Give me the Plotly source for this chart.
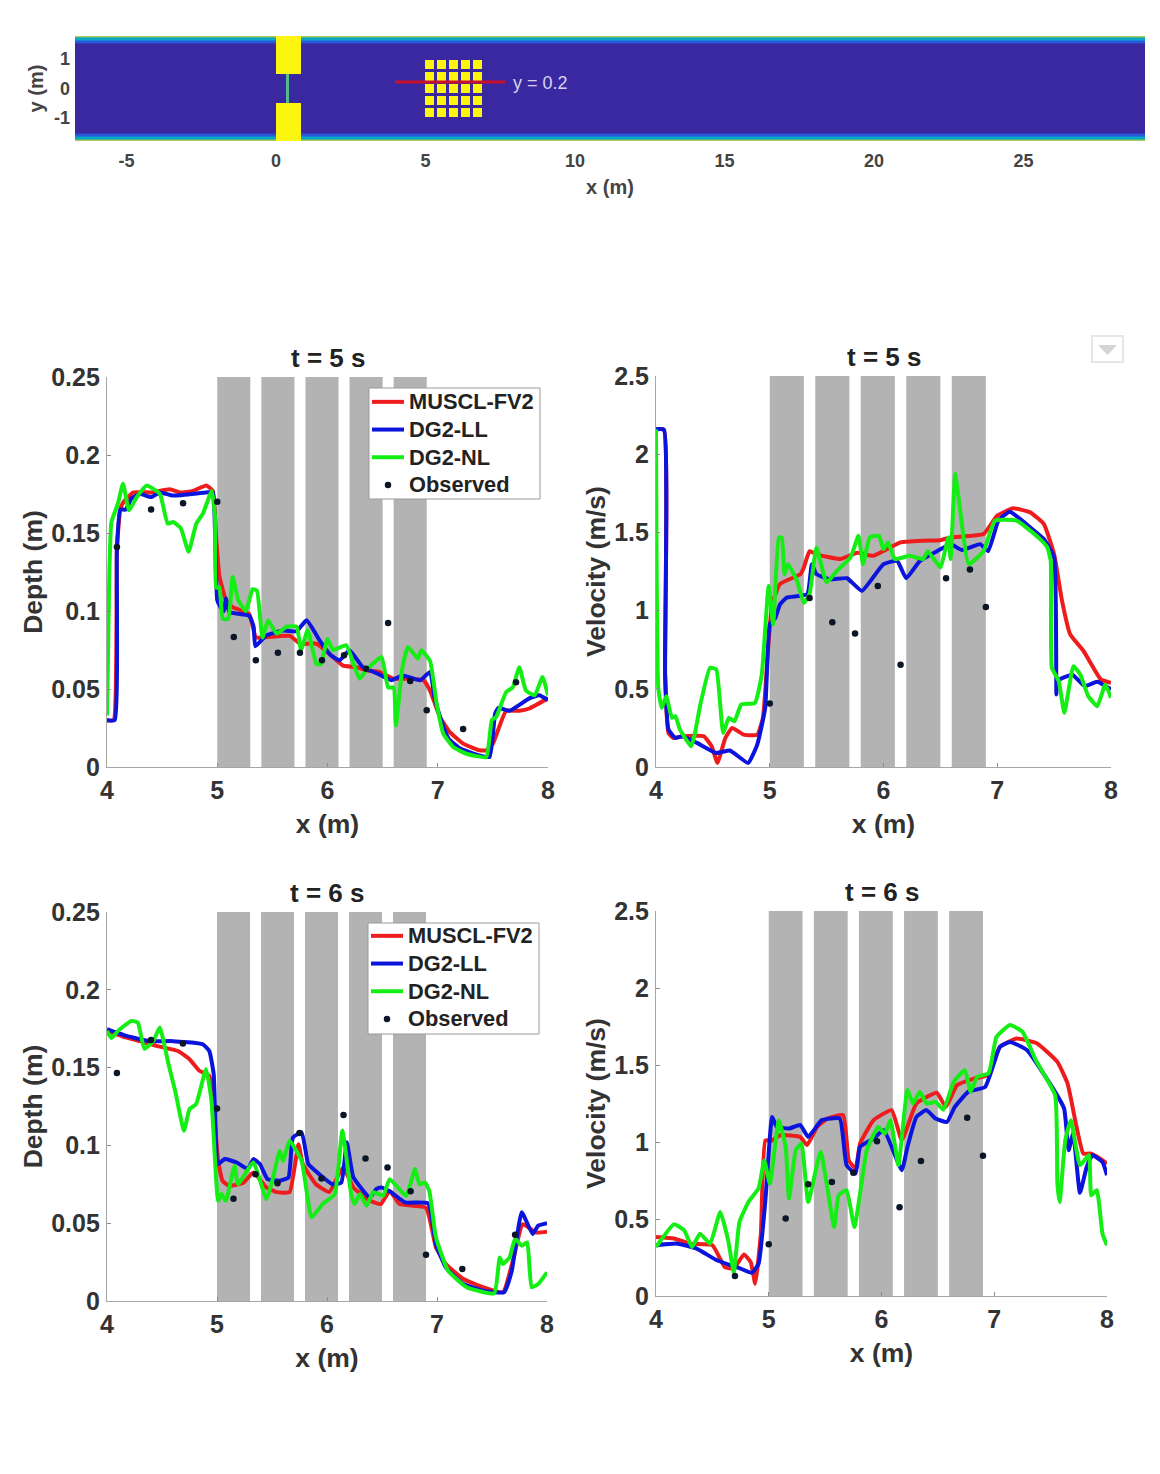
import plotly.graph_objects as go

W, H = 1160, 1474
FONT = "Liberation Sans"
RED, BLUE, GREEN, DOT = "#ee1c1c", "#0a14dc", "#14ee14", "#0b1626"
SERIES = ["MUSCL-FV2", "DG2-LL", "DG2-NL", "Observed"]

pillar_left = [5.0, 5.4, 5.8, 6.2, 6.6]
pillar_width = 0.3
x_ticks = [4, 5, 6, 7, 8]
depth_ticks = [0, 0.05, 0.1, 0.15, 0.2, 0.25]
depth_labels = ["0", "0.05", "0.1", "0.15", "0.2", "0.25"]
vel_ticks = [0, 0.5, 1, 1.5, 2, 2.5]
vel_labels = ["0", "0.5", "1", "1.5", "2", "2.5"]
map_x_ticks = [-5, 0, 5, 10, 15, 20, 25]
map_x_labels = ["-5", "0", "5", "10", "15", "20", "25"]
map_y_ticks = [-1, 0, 1]
map_y_labels = ["-1", "0", "1"]

# ---------- depth, t = 5 s
d5_red_x = [4, 4.06, 4.09, 4.12, 4.15, 4.24, 4.4, 4.57, 4.66, 4.78, 4.9, 4.96, 4.99, 5.02, 5.08, 5.14, 5.29, 5.35, 5.41, 5.66, 5.75, 5.9, 6.05, 6.14, 6.26, 6.35, 6.47, 6.6, 6.75, 6.87, 6.93, 7.02, 7.11, 7.23, 7.38, 7.44, 7.5, 7.62, 7.74, 7.83, 8]
d5_red_y = [.03, .03, .14, .165, .17, .176, .176, .178, .176, .177, .1805, .177, .147, .122, .107, .1025, .098, .083, .083, .084, .079, .079, .0705, .065, .064, .062, .061, .0566, .0566, .0556, .049, .032, .0224, .015, .0107, .0107, .015, .036, .036, .0375, .044]
d5_blue_x = [4, 4.07, 4.09, 4.12, 4.17, 4.22, 4.3, 4.4, 4.48, 4.6, 4.9, 4.96, 4.98, 5.0, 5.03, 5.06, 5.08, 5.11, 5.29, 5.33, 5.345, 5.445, 5.6, 5.72, 5.81, 5.93, 6.03, 6.11, 6.2, 6.32, 6.45, 6.58, 6.68, 6.84, 6.93, 6.97, 7.03, 7.1, 7.2, 7.35, 7.47, 7.52, 7.55, 7.65, 7.83, 7.92, 8]
d5_blue_y = [.03, .03, .14, .165, .165, .172, .175, .173, .176, .174, .176, .176, .15, .107, .1025, .1, .108, .0994, .097, .09, .0774, .0844, .0875, .087, .094, .081, .0716, .0684, .0748, .064, .06, .0556, .0587, .0556, .061, .045, .03, .018, .012, .008, .0064, .034, .038, .036, .044, .046, .043]
d5_green_x = [4, 4.02, 4.04, 4.1, 4.145, 4.2, 4.27, 4.36, 4.48, 4.55, 4.6, 4.67, 4.74, 4.81, 4.87, 4.95, 4.98, 4.99, 5.02, 5.05, 5.1, 5.14, 5.19, 5.26, 5.32, 5.36, 5.41, 5.46, 5.54, 5.63, 5.72, 5.76, 5.82, 5.9, 5.94, 6.0, 6.05, 6.17, 6.29, 6.35, 6.49, 6.55, 6.6, 6.62, 6.68, 6.73, 6.82, 6.85, 6.93, 6.99, 7.05, 7.14, 7.26, 7.44, 7.49, 7.53, 7.62, 7.68, 7.74, 7.8, 7.88, 7.95, 8]
d5_green_y = [.033, .12, .157, .169, .1816, .1645, .173, .1805, .175, .156, .157, .153, .138, .156, .1624, .177, .16, .115, .115, .095, .095, .122, .107, .1, .114, .113, .083, .094, .0855, .09, .09, .075, .0876, .066, .066, .082, .075, .078, .0566, .062, .0705, .051, .051, .0267, .064, .077, .0694, .0748, .068, .0406, .0214, .0128, .0085, .0064, .03, .032, .048, .051, .064, .049, .046, .0577, .046]
d5_obs_x = [4.09, 4.4, 4.69, 5.0, 5.15, 5.35, 5.55, 5.75, 5.95, 6.15, 6.35, 6.55, 6.75, 6.9, 7.23, 7.71]
d5_obs_y = [.141, .165, .169, .170, .0833, .0684, .0733, .0733, .0684, .0716, .063, .0923, .0551, .0363, .0244, .0543]

# ---------- velocity, t = 5 s
v5_red_x = [4, 4.07, 4.08, 4.11, 4.15, 4.24, 4.42, 4.49, 4.54, 4.61, 4.67, 4.77, 4.89, 4.94, 4.99, 5.02, 5.09, 5.27, 5.3, 5.35, 5.41, 5.62, 5.77, 5.91, 6.15, 6.35, 6.5, 6.59, 6.88, 7.0, 7.14, 7.29, 7.41, 7.5, 7.57, 7.64, 7.76, 7.91, 8]
v5_red_y = [2.16, 2.156, .59, .218, .186, .197, .197, .132, .026, .186, .25, .207, .207, .314, .806, 1.04, 1.17, 1.233, 1.276, 1.38, 1.36, 1.33, 1.37, 1.35, 1.436, 1.447, 1.45, 1.468, 1.49, 1.607, 1.654, 1.628, 1.553, 1.36, 1.06, .85, .74, .56, .538]
v5_blue_x = [4, 4.07, 4.08, 4.11, 4.17, 4.23, 4.36, 4.53, 4.65, 4.81, 4.89, 4.96, 5.0, 5.05, 5.09, 5.15, 5.33, 5.37, 5.41, 5.53, 5.68, 5.81, 6.0, 6.12, 6.2, 6.32, 6.47, 6.59, 6.69, 6.85, 6.92, 7.01, 7.11, 7.29, 7.41, 7.5, 7.52, 7.53, 7.66, 7.77, 7.88, 8]
v5_blue_y = [2.16, 2.156, .59, .24, .186, .197, .154, .09, .105, .026, .143, .378, .912, .955, 1.04, 1.083, 1.105, 1.297, 1.233, 1.2, 1.207, 1.126, 1.297, 1.318, 1.207, 1.318, 1.38, 1.425, 1.387, 1.425, 1.38, 1.575, 1.632, 1.532, 1.457, 1.34, .464, .55, .59, .517, .545, .496]
v5_green_x = [4, 4.02, 4.05, 4.09, 4.14, 4.17, 4.21, 4.31, 4.34, 4.39, 4.475, 4.53, 4.59, 4.64, 4.69, 4.75, 4.87, 4.93, 4.99, 5.03, 5.08, 5.105, 5.13, 5.16, 5.24, 5.3, 5.35, 5.41, 5.5, 5.59, 5.71, 5.78, 5.82, 5.88, 5.96, 6.0, 6.04, 6.1, 6.23, 6.35, 6.39, 6.5, 6.57, 6.59, 6.63, 6.66, 6.75, 6.88, 6.98, 7.17, 7.36, 7.44, 7.47, 7.48, 7.54, 7.59, 7.67, 7.73, 7.8, 7.88, 7.95, 8]
v5_green_y = [2.16, .506, .378, .453, .314, .325, .24, .132, .207, .4, .635, .624, .218, .314, .293, .4, .41, .592, 1.158, .912, 1.468, 1.468, 1.233, 1.297, 1.19, 1.05, 1.105, 1.404, 1.18, 1.254, 1.34, 1.478, 1.297, 1.468, 1.478, 1.393, 1.436, 1.33, 1.35, 1.33, 1.38, 1.276, 1.468, 1.33, 1.874, 1.724, 1.297, 1.38, 1.575, 1.575, 1.468, 1.404, 1.318, .635, .55, .346, .645, .592, .453, .389, .528, .442]
v5_obs_x = [5.0, 5.35, 5.55, 5.75, 5.95, 6.15, 6.55, 6.76, 6.9]
v5_obs_y = [.406, 1.08, .925, .853, 1.158, .654, 1.207, 1.263, 1.023]

# ---------- depth, t = 6 s
d6_red_x = [4, 4.145, 4.3, 4.45, 4.645, 4.75, 4.84, 4.93, 4.97, 5.01, 5.05, 5.11, 5.24, 5.33, 5.45, 5.54, 5.66, 5.74, 5.78, 5.9, 6.02, 6.145, 6.24, 6.39, 6.49, 6.57, 6.66, 6.9, 6.99, 7.08, 7.24, 7.42, 7.6, 7.69, 7.78, 7.9, 8]
d6_red_y = [.1736, .17, .167, .164, .1607, .1554, .148, .1447, .1244, .09, .0773, .074, .076, .0826, .073, .07, .07, .1008, .088, .075, .07, .0858, .073, .0644, .0623, .0708, .0623, .06, .0345, .0238, .0141, .0088, .0056, .026, .0494, .044, .0445]
d6_blue_x = [4, 4.175, 4.39, 4.6, 4.87, 4.93, 4.97, 5.01, 5.07, 5.18, 5.28, 5.33, 5.39, 5.46, 5.57, 5.65, 5.69, 5.77, 5.83, 5.93, 6.05, 6.13, 6.18, 6.24, 6.39, 6.45, 6.49, 6.58, 6.71, 6.92, 6.99, 7.08, 7.24, 7.42, 7.61, 7.68, 7.77, 7.87, 7.92, 8]
d6_blue_y = [.1747, .1704, .167, .167, .165, .1607, .1458, .088, .0912, .089, .0848, .0912, .088, .0783, .0773, .0794, .105, .1083, .088, .0815, .075, .076, .102, .0794, .0666, .072, .073, .07, .0634, .0627, .0366, .0216, .0109, .0066, .0056, .0195, .057, .043, .0484, .05]
d6_green_x = [4, 4.04, 4.1, 4.22, 4.28, 4.34, 4.42, 4.48, 4.56, 4.62, 4.7, 4.75, 4.81, 4.9, 4.95, 5.01, 5.04, 5.08, 5.16, 5.19, 5.33, 5.45, 5.51, 5.57, 5.6, 5.66, 5.77, 5.86, 5.96, 6.07, 6.14, 6.22, 6.25, 6.3, 6.36, 6.42, 6.51, 6.57, 6.72, 6.8, 6.84, 6.89, 6.93, 6.99, 7.1, 7.27, 7.52, 7.57, 7.6, 7.66, 7.71, 7.77, 7.82, 7.86, 7.92, 8]
d6_green_y = [.1736, .169, .1736, .18, .179, .162, .167, .1757, .152, .135, .1094, .1233, .1265, .149, .1286, .0644, .0687, .0644, .087, .075, .089, .0655, .0794, .0965, .09, .103, .09, .0537, .0623, .0687, .1094, .0687, .0623, .0687, .0612, .07, .0676, .0783, .0676, .0848, .075, .0762, .0708, .041, .0195, .0088, .0049, .028, .0238, .028, .04, .0355, .0377, .0088, .0109, .0184]
d6_obs_x = [4.09, 4.4, 4.69, 5.0, 5.15, 5.35, 5.55, 5.75, 5.95, 6.15, 6.35, 6.55, 6.76, 6.9, 7.23, 7.71]
d6_obs_y = [.1466, .1678, .1655, .1237, .0657, .0815, .0756, .1079, .0788, .1196, .0916, .0858, .0706, .0298, .0205, .0426]

# ---------- velocity, t = 6 s
v6_red_x = [4, 4.16, 4.3, 4.5, 4.61, 4.69, 4.78, 4.84, 4.88, 4.93, 4.97, 5.03, 5.1, 5.28, 5.34, 5.43, 5.52, 5.66, 5.71, 5.77, 5.81, 5.93, 6.09, 6.18, 6.31, 6.49, 6.57, 6.67, 6.82, 6.94, 7.05, 7.2, 7.38, 7.56, 7.65, 7.73, 7.79, 7.85, 7.94, 8]
v6_red_y = [.383, .373, .34, .33, .188, .178, .27, .22, .08, .405, 1.01, 1.01, 1.044, 1.033, .98, 1.1, 1.152, 1.174, .88, .827, .99, 1.142, 1.207, 1.012, 1.25, 1.32, 1.228, 1.37, 1.412, 1.434, 1.618, 1.672, 1.64, 1.52, 1.38, 1.098, .925, .925, .892, .86]
v6_blue_x = [4, 4.19, 4.36, 4.54, 4.75, 4.85, 4.91, 4.97, 5.03, 5.07, 5.18, 5.28, 5.35, 5.47, 5.63, 5.69, 5.77, 5.81, 5.93, 6.02, 6.18, 6.23, 6.31, 6.4, 6.48, 6.58, 6.65, 6.77, 6.92, 7.05, 7.14, 7.29, 7.53, 7.62, 7.66, 7.7, 7.76, 7.82, 7.87, 7.96, 8]
v6_blue_y = [.33, .34, .308, .232, .178, .15, .21, .62, 1.163, 1.1, 1.088, 1.11, 1.033, 1.142, 1.152, .85, .795, .968, 1.022, 1.077, .817, .968, 1.163, 1.207, 1.152, 1.13, 1.228, 1.326, 1.358, 1.618, 1.65, 1.597, 1.337, 1.217, .947, 1.055, .67, .838, .914, .87, .784]
v6_green_x = [4, 4.16, 4.25, 4.32, 4.39, 4.48, 4.57, 4.64, 4.69, 4.74, 4.82, 4.91, 4.96, 5.01, 5.09, 5.15, 5.18, 5.24, 5.29, 5.35, 5.46, 5.58, 5.62, 5.69, 5.76, 5.87, 5.97, 6.03, 6.08, 6.15, 6.23, 6.28, 6.34, 6.4, 6.48, 6.55, 6.64, 6.74, 6.79, 6.85, 6.95, 7.02, 7.14, 7.25, 7.37, 7.54, 7.56, 7.58, 7.63, 7.68, 7.76, 7.84, 7.86, 7.91, 7.96, 8]
v6_green_y = [.318, .466, .427, .318, .405, .34, .546, .362, .156, .48, .61, .7, .88, .73, 1.142, .968, .633, .947, .99, .61, .936, .448, .654, .687, .448, .947, 1.098, 1.055, 1.142, .85, 1.337, 1.25, 1.326, 1.25, 1.26, 1.21, 1.39, 1.467, 1.326, 1.423, 1.445, 1.683, 1.759, 1.716, 1.53, 1.304, .73, .61, 1.012, 1.142, .85, .914, .654, .687, .405, .33]
v6_obs_x = [4.7, 5.0, 5.15, 5.35, 5.56, 5.75, 5.96, 6.16, 6.35, 6.76, 6.9]
v6_obs_y = [.13, .336, .503, .726, .741, .8, 1.005, .576, .877, 1.157, .91]

# ---------- plan view of the channel
map_x_edges = [-6.72, 0, 0.34, 0.44, 0.84, 5.0, 5.3, 5.4, 5.7, 5.8, 6.1, 6.2, 6.5, 6.6, 6.9, 29.06]
map_y_edges = [-1.78, -1.76, -1.72, -1.66, -1.6, -1.54, -1.5, -0.95, -0.65, -0.55, -0.5, -0.25, -0.15, 0.15, 0.25, 0.5, 0.55, 0.65, 0.95, 1.5, 1.54, 1.6, 1.66, 1.72, 1.76, 1.78]
wall_levels = [0.72, 0.52, 0.38, 0.25, 0.14, 0.05]
PARULA = [[0, "#3a28a0"], [.12, "#2c52d8"], [.25, "#1480d8"], [.38, "#08a5c5"], [.5, "#35b89a"], [.72, "#b5c860"], [1, "#fcf510"]]


def map_level(xc, yc):
    if 0 < xc < 0.84 and abs(yc) > 0.5:
        return 1
    if 0.34 < xc < 0.44 and abs(yc) <= 0.5:
        return 0.55
    if 5 < xc < 6.9 and abs(yc) < 0.95:
        in_col = any(l < xc < l + pillar_width for l in pillar_left)
        in_row = any(abs(yc - r) < 0.15 for r in (-0.8, -0.4, 0, 0.4, 0.8))
        if in_col and in_row:
            return 1
    if abs(yc) > 1.5:
        for edge, lev in zip(map_y_edges[1:7], wall_levels):
            if -abs(yc) < edge:
                return lev
    return 0


x_mid = [(a + b) / 2 for a, b in zip(map_x_edges, map_x_edges[1:])]
y_mid = [(a + b) / 2 for a, b in zip(map_y_edges, map_y_edges[1:])]
map_z = [[map_level(x, y) for x in x_mid] for y in y_mid]

fig = go.Figure()
fig.add_trace(go.Heatmap(x=map_x_edges, y=map_y_edges, z=map_z, colorscale=PARULA, zmin=0, zmax=1,
                         showscale=False, hoverinfo="skip", xaxis="x", yaxis="y"))
fig.add_trace(go.Scatter(x=[3.98, 7.66], y=[0.22, 0.22], mode="lines", line=dict(color="#c8102e", width=3),
                         showlegend=False, xaxis="x", yaxis="y", hoverinfo="skip"))

panels = [
    (2, "Depth (m)", 0.25, depth_ticks, depth_labels, (107, 548, 377, 767), "t = 5 s", "legend",
     [(d5_red_x, d5_red_y), (d5_blue_x, d5_blue_y), (d5_green_x, d5_green_y)], (d5_obs_x, d5_obs_y)),
    (3, "Velocity (m/s)", 2.5, vel_ticks, vel_labels, (656, 1111, 376, 767), "t = 5 s", None,
     [(v5_red_x, v5_red_y), (v5_blue_x, v5_blue_y), (v5_green_x, v5_green_y)], (v5_obs_x, v5_obs_y)),
    (4, "Depth (m)", 0.25, depth_ticks, depth_labels, (107, 547, 912, 1301), "t = 6 s", "legend2",
     [(d6_red_x, d6_red_y), (d6_blue_x, d6_blue_y), (d6_green_x, d6_green_y)], (d6_obs_x, d6_obs_y)),
    (5, "Velocity (m/s)", 2.5, vel_ticks, vel_labels, (656, 1107, 911, 1296), "t = 6 s", None,
     [(v6_red_x, v6_red_y), (v6_blue_x, v6_blue_y), (v6_green_x, v6_green_y)], (v6_obs_x, v6_obs_y)),
]


def legend_label(text):
    return f'<span style="font-size:21.8px">{text}</span>'


axis_font = dict(family=FONT, size=25, color="#333333", weight="bold")
title_font = dict(family=FONT, size=26.5, color="#333333", weight="bold")
layout_axes = {}
annots = []
for idx, ylabel, ymax, yt, yl, (x0, x1, y0, y1), title, legend_name, lines, obs in panels:
    xa, ya = f"x{idx}", f"y{idx}"
    fig.add_trace(go.Bar(x=[l + pillar_width / 2 for l in pillar_left], y=[ymax] * len(pillar_left),
                         width=pillar_width, marker=dict(color="#b3b3b3", line=dict(width=0)),
                         showlegend=False, hoverinfo="skip", xaxis=xa, yaxis=ya))
    for name, color, (lx, ly) in zip(SERIES, (RED, BLUE, GREEN), lines):
        fig.add_trace(go.Scatter(x=lx, y=ly, mode="lines", name=legend_label(name),
                                 line=dict(color=color, width=4, shape="spline", smoothing=0.4),
                                 xaxis=xa, yaxis=ya, showlegend=legend_name is not None,
                                 legend=legend_name or "legend"))
    fig.add_trace(go.Scatter(x=obs[0], y=obs[1], mode="markers", name=legend_label(SERIES[3]),
                             marker=dict(color=DOT, size=6.5), xaxis=xa, yaxis=ya,
                             showlegend=legend_name is not None, legend=legend_name or "legend"))
    layout_axes[f"xaxis{idx}"] = dict(
        domain=[x0 / W, x1 / W], anchor=ya, range=[4, 8], tickvals=x_ticks, tickfont=axis_font,
        showgrid=False, zeroline=False, showline=True, linecolor="#a6a6a6", linewidth=1.2,
        ticks="inside", ticklen=4, tickcolor="#8c8c8c", automargin=False, ticklabelstandoff=1,
        title=dict(text="x (m)", standoff=11, font=title_font))
    layout_axes[f"yaxis{idx}"] = dict(
        domain=[1 - y1 / H, 1 - y0 / H], anchor=xa, range=[0, ymax], tickvals=yt, ticktext=yl, tickfont=axis_font,
        showgrid=False, zeroline=False, showline=True, linecolor="#a6a6a6", linewidth=1.2,
        ticks="inside", ticklen=4, tickcolor="#8c8c8c", automargin=False, ticklabelstandoff=1,
        title=dict(text=ylabel, standoff=0, font=title_font))
    annots.append(dict(text=title, x=(x0 + x1) / 2 / W, y=1 - (y0 - 19) / H, xref="paper", yref="paper",
                       xanchor="center", yanchor="middle", showarrow=False,
                       font=dict(family=FONT, size=26, color="#222222", weight="bold")))

annots.append(dict(text="y = 0.2", x=7.85, y=0.2, xref="x", yref="y", xanchor="left", yanchor="middle",
                   showarrow=False, font=dict(family=FONT, size=18, color="#d8d2f2")))

map_font = dict(family=FONT, size=18, color="#444444", weight="bold")
map_title_font = dict(family=FONT, size=20, color="#444444", weight="bold")
legend_style = dict(font=dict(family=FONT, size=19, color="#222222", weight="bold"), bgcolor="rgba(0,0,0,0)",
                    borderwidth=0, itemwidth=32, xanchor="left", yanchor="top",
                    tracegroupgap=0, itemclick=False, itemdoubleclick=False)
box_style = dict(type="rect", xref="paper", yref="paper", layer="above",
                 line=dict(color="#9a9a9a", width=1), fillcolor="white")

fig.update_layout(
    width=W, height=H, autosize=False, margin=dict(l=0, r=0, t=0, b=0),
    paper_bgcolor="white", plot_bgcolor="white", barmode="overlay", hovermode=False,
    font=dict(family=FONT),
    xaxis=dict(domain=[75 / W, 1145 / W], anchor="y", range=[-6.72, 29.06], tickvals=map_x_ticks, ticktext=map_x_labels,
               tickfont=map_font, showgrid=False, zeroline=False, showline=False, ticks="", automargin=False,
               ticklabelstandoff=7, title=dict(text="x (m)", standoff=9, font=map_title_font)),
    yaxis=dict(domain=[1 - 141 / H, 1 - 36 / H], anchor="x", range=[-1.78, 1.78], tickvals=map_y_ticks, ticktext=map_y_labels,
               tickfont=map_font, showgrid=False, zeroline=False, showline=False, ticks="", automargin=False,
               ticklabelstandoff=4, title=dict(text="y (m)", standoff=4, font=map_title_font)),
    legend=dict(x=367 / W, y=1 - 383 / H, **legend_style),
    legend2=dict(x=366 / W, y=1 - 917 / H, **legend_style),
    annotations=annots,
    shapes=[
        dict(x0=369 / W, x1=540 / W, y0=1 - 499 / H, y1=1 - 388 / H, **box_style),
        dict(x0=368 / W, x1=539 / W, y0=1 - 1034 / H, y1=1 - 923 / H, **box_style),
        dict(type="rect", xref="paper", yref="paper", x0=1092 / W, x1=1123 / W, y0=1 - 362 / H, y1=1 - 336 / H,
             line=dict(color="#e6e6e6", width=2), fillcolor="white"),
        dict(type="path", xref="paper", yref="paper",
             path=f"M {1098 / W} {1 - 345 / H} L {1117 / W} {1 - 345 / H} L {1107.5 / W} {1 - 355 / H} Z",
             line=dict(width=0), fillcolor="#d4d4d4"),
    ],
    **layout_axes,
)

fig.write_html("out.html", config=dict(displayModeBar=False),
               post_script="document.body.style.margin='0';")
